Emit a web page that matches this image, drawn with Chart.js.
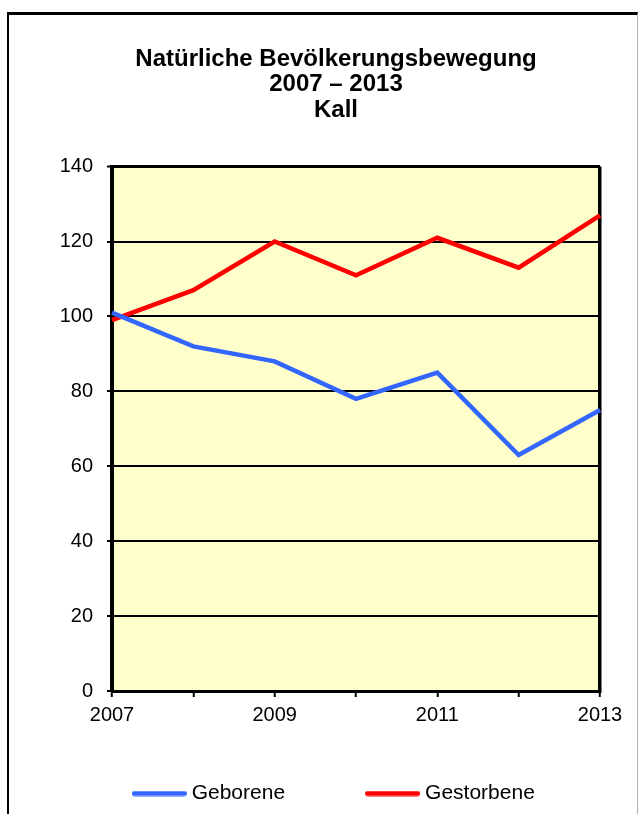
<!DOCTYPE html>
<html>
<head>
<meta charset="utf-8">
<script src="https://cdn.jsdelivr.net/npm/chart.js@4"></script>
<style>
  html, body { margin: 0; padding: 0; background: #fff; }
  #wrap { position: relative; width: 639px; height: 814px; overflow: hidden; }
  #frame { position: absolute; left: 7px; top: 12px; width: 628px; height: 900px;
           border-left: 2px solid #000; border-top: 3px solid #000; border-right: 1px solid #b0b0b0;
           pointer-events: none; }
  canvas { position: absolute; left: 0; top: 0; }
</style>
</head>
<body>
<div id="wrap">
  <canvas id="c" width="639" height="814"></canvas>
  <div id="frame"></div>
</div>
<script>
const years = ['2007', '2008', '2009', '2010', '2011', '2012', '2013'];
const shownYears = ['2007', '2009', '2011', '2013'];
const geborene = [101, 92, 88, 78, 85, 63, 75];
const gestorbene = [99, 107, 120, 111, 121, 113, 127];
const titleLines = ['Natürliche Bevölkerungsbewegung', '2007 – 2013', 'Kall'];

const FONT = "'Liberation Sans', Arial, sans-serif";

// legend line swatch (55 x 6, rounded ends)
function swatch(color) {
  const c = document.createElement('canvas');
  c.width = 55; c.height = 6;
  const g = c.getContext('2d');
  g.strokeStyle = color; g.lineWidth = 5; g.lineCap = 'round';
  g.beginPath(); g.moveTo(2.5, 3); g.lineTo(52.5, 3); g.stroke();
  return c;
}

const plotBg = {
  id: 'plotBg',
  beforeDraw(chart) {
    const {ctx, chartArea: a} = chart;
    ctx.save();
    ctx.fillStyle = '#FFFFCC';
    ctx.fillRect(a.left, a.top, a.right - a.left, a.bottom - a.top);
    ctx.restore();
  }
};

new Chart(document.getElementById('c'), {
  type: 'line',
  data: {
    labels: years,
    datasets: [
      { label: 'Geborene', data: geborene, borderColor: '#3366FF', backgroundColor: '#3366FF',
        borderWidth: 4.5, pointRadius: 0, tension: 0 },
      { label: 'Gestorbene', data: gestorbene, borderColor: '#FF0000', backgroundColor: '#FF0000',
        borderWidth: 4.5, pointRadius: 0, tension: 0 }
    ]
  },
  options: {
    responsive: false,
    animation: false,
    devicePixelRatio: 1,
    layout: { padding: { left: 33, right: 0, top: 0, bottom: 0 } },
    plugins: {
      title: {
        display: true,
        text: titleLines,
        color: '#000',
        font: { family: FONT, size: 24, weight: 'bold', lineHeight: 1.05 },
        padding: { top: 47, bottom: 44 }
      },
      legend: {
        position: 'bottom',
        title: { display: true, text: '', font: { size: 1, lineHeight: 1 }, padding: { top: 0, bottom: -30.5 } },
        labels: {
          color: '#000',
          font: { family: FONT, size: 21 },
          usePointStyle: true,
          pointStyleWidth: 44,
          boxHeight: 21,
          padding: 85.5,
          generateLabels(chart) {
            const items = Chart.defaults.plugins.legend.labels.generateLabels(chart);
            items.forEach(i => {
              const ds = chart.data.datasets[i.datasetIndex];
              i.pointStyle = swatch(ds.borderColor);
            });
            return items;
          }
        }
      },
      tooltip: { enabled: false }
    },
    scales: {
      x: {
        offset: false,
        afterFit(s) { s.height = 36; s.paddingRight = 39; s.paddingLeft = 0; },
        grid: {
          drawOnChartArea: true,
          color: c => (c.index === years.length - 1 ? '#000' : 'rgba(0,0,0,0)'),
          lineWidth: 3.5,
          tickColor: '#000',
          tickWidth: 2,
          tickLength: 6
        },
        border: { display: true, color: '#000', width: 3 },
        ticks: {
          autoSkip: false,
          maxRotation: 0,
          color: '#000',
          padding: 6,
          font: { family: FONT, size: 20 },
          callback(v, i) { const l = years[i]; return shownYears.includes(l) ? l : ''; }
        }
      },
      y: {
        min: 0, max: 140,
        afterFit(s) { s.width = 79; },
        grid: {
          color: '#000',
          lineWidth: c => (c.tick && c.tick.value === 140 ? 3 : 2),
          tickColor: '#000',
          tickWidth: 2,
          tickLength: 5
        },
        border: { display: true, color: '#000', width: 4 },
        ticks: {
          stepSize: 20,
          color: '#000',
          padding: 14,
          font: { family: FONT, size: 20 }
        }
      }
    }
  },
  plugins: [plotBg]
});
</script>
</body>
</html>
